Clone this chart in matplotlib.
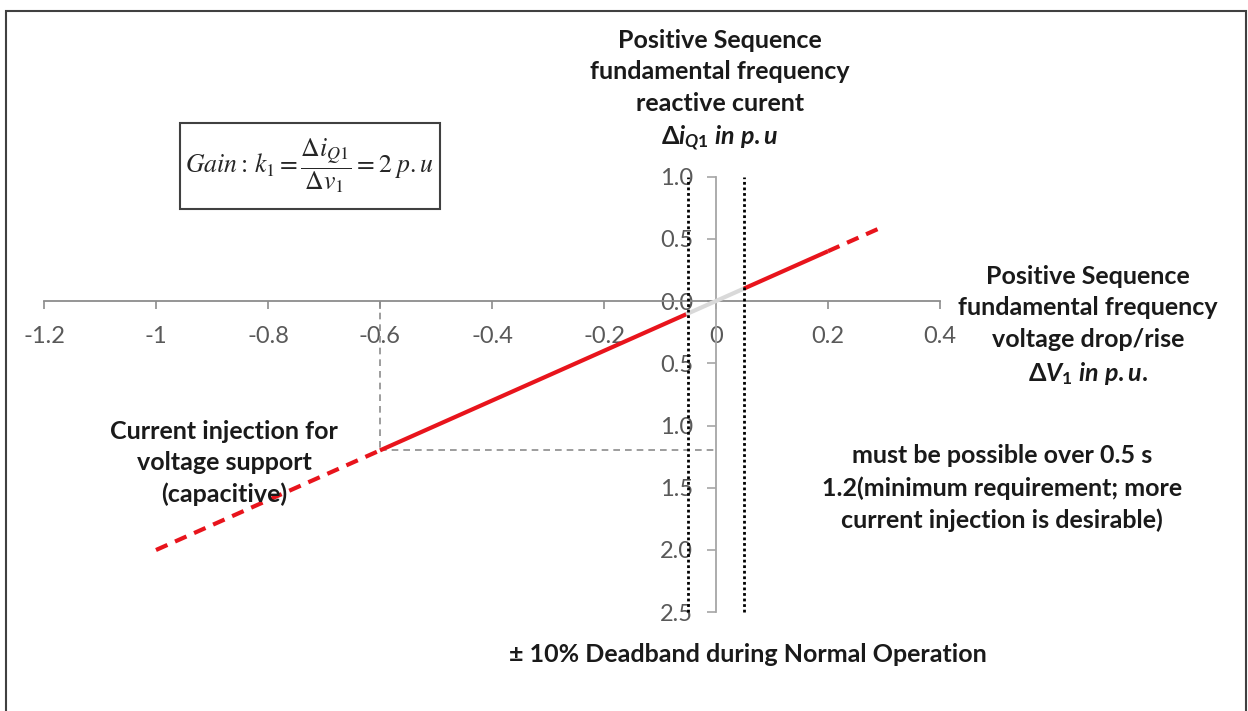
import matplotlib
matplotlib.use("Agg")
import matplotlib.pyplot as plt
from matplotlib.patches import Rectangle

plt.rcParams["font.family"] = ["Lato", "DejaVu Sans"]
plt.rcParams["mathtext.fontset"] = "custom"
plt.rcParams["mathtext.rm"] = "Lato:bold"
plt.rcParams["mathtext.it"] = "Lato:italic:bold"
plt.rcParams["mathtext.bf"] = "Lato:bold"

# characteristic points (delta V in p.u., delta iQ in p.u.)
v_dash_low = [-1.0, -0.6]
i_dash_low = [-2.0, -1.2]
v_solid_low = [-0.6, -0.05]
i_solid_low = [-1.2, -0.1]
v_dead = [-0.05, 0.05]
i_dead = [-0.1, 0.1]
v_solid_high = [0.05, 0.2]
i_solid_high = [0.1, 0.4]
v_dash_high = [0.2, 0.3]
i_dash_high = [0.4, 0.6]

deadband = [-0.05, 0.05]
req_v = -0.6
req_i = -1.2

x_ticks = [-1.2, -1.0, -0.8, -0.6, -0.4, -0.2, 0.0, 0.2, 0.4]
x_labels = ["-1.2", "-1", "-0.8", "-0.6", "-0.4", "-0.2", "0", "0.2", "0.4"]
y_ticks = [1.0, 0.5, 0.0, -0.5, -1.0, -1.5, -2.0, -2.5]
y_labels = ["1.0", "0.5", "0.0", "0.5", "1.0", "1.5", "2.0", "2.5"]

W, H = 1248, 711
fig = plt.figure(figsize=(W / 100, H / 100), dpi=100)
ax = fig.add_axes([0, 0, 1, 1])
ax.set_facecolor("none")

# origin at (716, 301) px, 560 px per unit in x, 124.5 px per unit in y
ox, oy, sx, sy = 716, 301, 560, 124.5
ax.set_xlim(-ox / sx, (W - ox) / sx)
ax.set_ylim(-(H - oy) / sy, oy / sy)

for s in ["top", "right"]:
    ax.spines[s].set_visible(False)
ax.spines["left"].set_position(("data", 0))
ax.spines["bottom"].set_position(("data", 0))
ax.spines["left"].set_bounds(-2.5, 1.0)
ax.spines["bottom"].set_bounds(-1.2, 0.4)
ax.spines["left"].set_color("#a6a6a6")
ax.spines["bottom"].set_color("#8c8c8c")
ax.spines["left"].set_linewidth(1.3)
ax.spines["bottom"].set_linewidth(1.3)

ax.set_xticks(x_ticks)
ax.set_xticklabels(x_labels)
ax.set_yticks(y_ticks)
ax.set_yticklabels(y_labels)
ax.tick_params(axis="x", direction="out", length=6, width=1.2, color="#8c8c8c",
               pad=12, labelsize=17, labelcolor="#595959")
ax.tick_params(axis="y", direction="out", length=6.5, width=1.2, color="#a6a6a6",
               pad=10, labelsize=17, labelcolor="#595959")

# guide lines to the minimum requirement point
ax.plot([req_v, req_v], [0, req_i], color="#8c8c8c", lw=1.2, ls=(0, (4, 3)), zorder=2)
ax.plot([req_v, 0], [req_i, req_i], color="#8c8c8c", lw=1.2, ls=(0, (4, 3)), zorder=2)

# characteristic
red = "#e8141c"
ax.plot(v_dash_low, i_dash_low, color=red, lw=3, ls=(0, (3, 2)), zorder=3)
ax.plot(v_solid_low, i_solid_low, color=red, lw=3, solid_capstyle="butt", zorder=3)
ax.plot(v_dead, i_dead, color="#d9d9d9", lw=3, zorder=3)
ax.plot(v_solid_high, i_solid_high, color=red, lw=3, solid_capstyle="butt", zorder=3)
ax.plot(v_dash_high, i_dash_high, color=red, lw=3, ls=(0, (3, 2)), zorder=3)

# deadband
ax.vlines(deadband, -2.5, 1.0, colors="black", lw=2, linestyles=(0, (1, 1)), zorder=4)


def ftext(xp, yp, s, **kw):
    fig.text(xp / W, 1 - yp / H, s, ha="center", va="center", **kw)


lbl = dict(fontsize=18, fontweight="bold", color="#1a1a1a", linespacing=1.45,
           multialignment="center")
ftext(720, 91, "Positive Sequence\nfundamental frequency\nreactive curent\n"
      "Δ$i_{Q1}$ $in$ $p.u$", **lbl)
ftext(1088, 326, "Positive Sequence\nfundamental frequency\nvoltage drop/rise\n"
      "Δ$V_1$ $in$ $p.u.$", **lbl)
ftext(224, 463, "Current injection for\nvoltage support\n(capacitive)", **lbl)
ftext(1002, 488, "must be possible over 0.5 s\n1.2(minimum requirement; more\n"
      "current injection is desirable)", **lbl)
ftext(748, 654, "± 10% Deadband during Normal Operation",
      fontsize=18, fontweight="bold", color="#1a1a1a")

# gain box
fig.patches.append(Rectangle((180 / W, 1 - 209 / H), 260 / W, 86 / H,
                             transform=fig.transFigure, fill=False,
                             edgecolor="#404040", lw=1.5))
ftext(309, 166, r"$Gain{:}\,k_1 = \dfrac{\Delta i_{Q1}}{\Delta v_1} = 2\;p.u$",
      fontsize=18.5, color="#262626", math_fontfamily="stix")

# outer frame
fig.patches.append(Rectangle((6 / W, -0.01), 1240 / W, 1 - 11 / H + 0.01,
                             transform=fig.transFigure, fill=False,
                             edgecolor="#404040", lw=1.5))

fig.savefig("out.png", dpi=100)
